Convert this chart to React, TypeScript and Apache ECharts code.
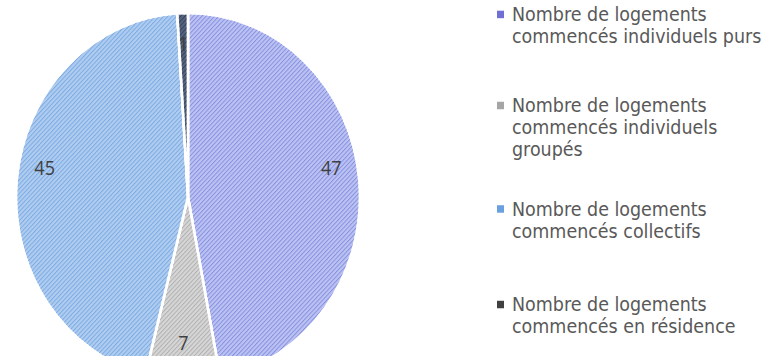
import React, { useEffect, useRef } from "react";
import * as echarts from "echarts";

const categories = [
  "Nombre de logements commencés individuels purs",
  "Nombre de logements commencés individuels groupés",
  "Nombre de logements commencés collectifs",
  "Nombre de logements commencés en résidence",
];
const legendLines = [
  ["Nombre de logements", "commencés individuels purs"],
  ["Nombre de logements", "commencés individuels", "groupés"],
  ["Nombre de logements", "commencés collectifs"],
  ["Nombre de logements", "commencés en résidence"],
];
const values = [47, 7, 45, 1];
const sliceColors = ["#bcc3f2", "#d6d6d6", "#b0cdf0", "#56657f"];
const stripeColors = [
  "rgba(96,108,214,0.6)",
  "rgba(150,150,150,0.6)",
  "rgba(86,146,218,0.6)",
  "rgba(30,42,66,0.6)",
];
const legendColors = ["#6f6fd6", "#a5a5a5", "#6aa0e0", "#404040"];
const legendCenters = [13.5, 98.6, 195.3, 284.6];
const labelShift = [28, 17, 28, 0];

const SCALE_Y = 1.07;
const W = 774;
const H = 356 / SCALE_Y;
const LH = 20.5;

export default function App() {
  const ref = useRef<HTMLDivElement>(null);
  useEffect(() => {
    if (!ref.current) return;
    const chart = echarts.init(ref.current, undefined, { renderer: "svg" });
    const data = categories.map((name, i) => ({
      name,
      value: values[i],
      itemStyle: {
        color: sliceColors[i],
        decal: {
          symbol: "rect",
          symbolSize: 1,
          color: stripeColors[i],
          dashArrayX: [1, 0],
          dashArrayY: [1, 2],
          rotation: -Math.PI / 4,
        },
      },
    }));
    const labelData = categories.map((name, i) => ({
      name,
      value: values[i],
      label: {
        formatter: labelShift[i] ? "{c}\n" : "{c}",
        lineHeight: labelShift[i] || 20,
      },
    }));
    chart.setOption({
      animation: false,
      legend: categories.map((name, i) => {
        const n = legendLines[i].length;
        const blanks = new Array(n - 1).fill("");
        return {
          data: [
            {
              name,
              itemStyle: { color: legendColors[i], decal: "none", borderWidth: 0 },
            },
          ],
          left: 497,
          top: legendCenters[i] - ((2 * n - 1) * LH) / 2,
          padding: 0,
          orient: "vertical",
          icon: "rect",
          itemWidth: 7,
          itemHeight: 7,
          selectedMode: false,
          formatter: () => blanks.concat(legendLines[i]).join("\n"),
          textStyle: {
            color: "#595959",
            fontSize: 17.5,
            fontFamily: "DejaVu Sans",
            lineHeight: LH,
            padding: [0, 0, 0, 3],
          },
        };
      }),
      series: [
        {
          type: "pie",
          center: [188, 184],
          radius: 172,
          startAngle: 90,
          clockwise: true,
          silent: true,
          label: { show: false },
          labelLine: { show: false },
          itemStyle: { borderColor: "#ffffff", borderWidth: 2.5 },
          data,
        },
        {
          type: "pie",
          center: [188, 184],
          radius: [110, 172],
          startAngle: 90,
          clockwise: true,
          silent: true,
          itemStyle: { color: "transparent", borderWidth: 0 },
          label: {
            show: true,
            position: "inside",
            color: "#404040",
            fontSize: 18,
            fontFamily: "Open Sans",
          },
          labelLine: { show: false },
          data: labelData,
        },
      ],
    });
    return () => chart.dispose();
  }, []);
  return (
    <div
      style={{
        position: "fixed",
        left: 0,
        top: 0,
        width: W,
        height: 356,
        overflow: "hidden",
        background: "#ffffff",
      }}
    >
      <div
        ref={ref}
        style={{
          width: W,
          height: H,
          transform: `scaleY(${SCALE_Y})`,
          transformOrigin: "0 0",
        }}
      />
    </div>
  );
}
